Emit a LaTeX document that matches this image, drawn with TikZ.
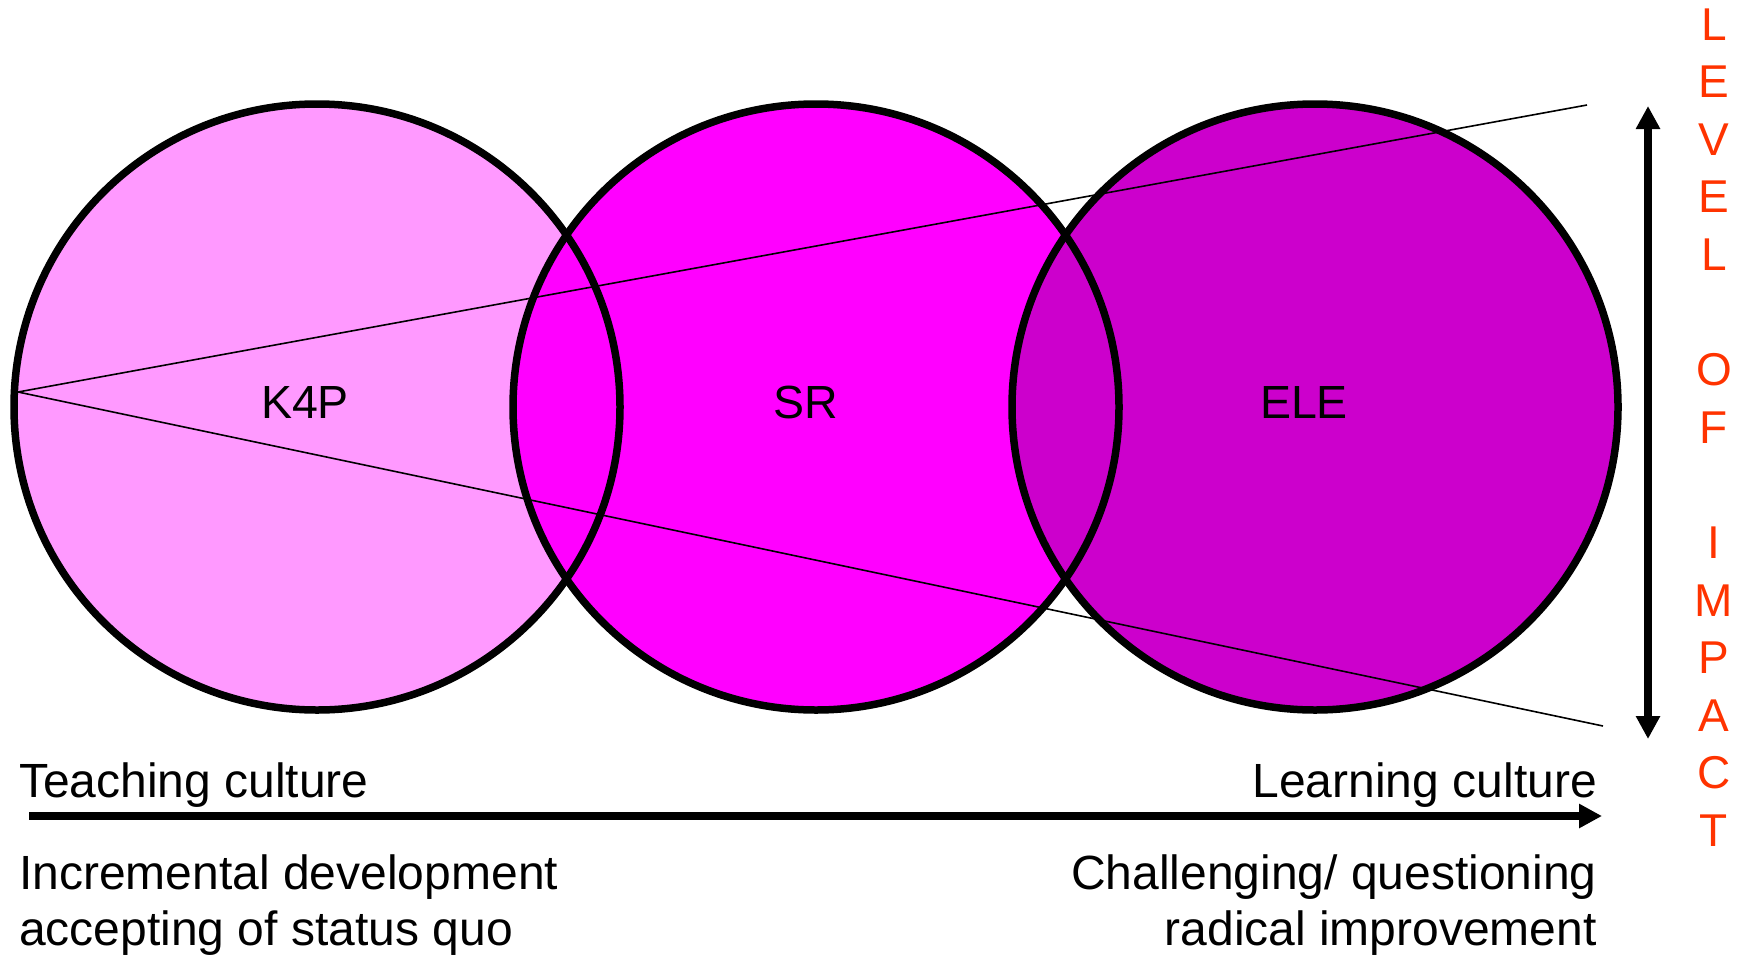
\documentclass[tikz,border=0pt]{standalone}
\usepackage{fontspec}
\setmainfont{Liberation Sans}
\usetikzlibrary{arrows.meta}
\definecolor{k4ppink}{HTML}{FF99FF}
\definecolor{srmagenta}{HTML}{FF00FF}
\definecolor{elepurple}{HTML}{CC00CC}
\definecolor{impactred}{HTML}{FF3300}
\tikzset{
  ring/.style={line width=7.5pt},
  ray/.style={line width=1.6pt},
  fat/.style={line width=8pt, >={Triangle[length=23pt,width=23pt]}},
  lab/.style={font=\fontsize{46.5}{54}\selectfont, inner sep=0pt, anchor=base},
  note/.style={font=\fontsize{48}{57}\selectfont, inner sep=0pt},
  lvl/.style={font=\fontsize{46}{57}\selectfont, text=impactred, inner sep=0pt, anchor=base},
}
\begin{document}
\begin{tikzpicture}[x=1pt,y=-1pt]
\useasboundingbox (0,0) rectangle (1744,961);
% the three circles, fills first so every rim shows
\fill[k4ppink] (317,407) circle (303pt);
\fill[srmagenta] (816,407) circle (303pt);
\fill[elepurple] (1315,407) circle (303pt);
\draw[ring] (317,407) circle (303pt);
\draw[ring] (816,407) circle (303pt);
\draw[ring] (1315,407) circle (303pt);
% widening wedge
\coordinate (apex) at (18,392);
\coordinate (rayhi) at (1587,105);
\coordinate (raylo) at (1603,726);
\draw[ray] (apex) -- (rayhi);
\draw[ray] (apex) -- (raylo);
\node[lab] (k4p) at (305,418) {K4P};
\node[lab] (sr) at (806,418) {SR};
\node[lab] (ele) at (1304,418) {ELE};
% level of impact
\coordinate (imptop) at (1648,106);
\coordinate (impbot) at (1648,739);
\draw[fat,<->] (imptop) -- (impbot);
\node[lvl] (lv1) at (1714,40) {L};
\node[lvl] (lv2) at (1714,97.6) {E};
\node[lvl] (lv3) at (1714,155.2) {V};
\node[lvl] (lv4) at (1714,212.8) {E};
\node[lvl] (lv5) at (1714,270.4) {L};
\node[lvl] (lv6) at (1714,385.6) {O};
\node[lvl] (lv7) at (1714,443.2) {F};
\node[lvl] (lv8) at (1714,558.4) {I};
\node[lvl] (lv9) at (1714,616) {M};
\node[lvl] (lv10) at (1714,673.6) {P};
\node[lvl] (lv11) at (1714,731.2) {A};
\node[lvl] (lv12) at (1714,788.8) {C};
\node[lvl] (lv13) at (1714,846.4) {T};
% culture axis
\coordinate (axl) at (29,816);
\coordinate (axr) at (1602,816);
\draw[fat,->] (axl) -- (axr);
\node[note,anchor=base west] (teach) at (19,797) {Teaching culture};
\node[note,anchor=base east] (learn) at (1597,797) {Learning culture};
\node[note,anchor=base west] (incr) at (19,889) {Incremental development};
\node[note,anchor=base west] (accept) at (19,945) {accepting of status quo};
\node[note,anchor=base east] (chall) at (1597,889) {Challenging/ questioning};
\node[note,anchor=base east] (radical) at (1597,945) {radical improvement};
\end{tikzpicture}
\end{document}
